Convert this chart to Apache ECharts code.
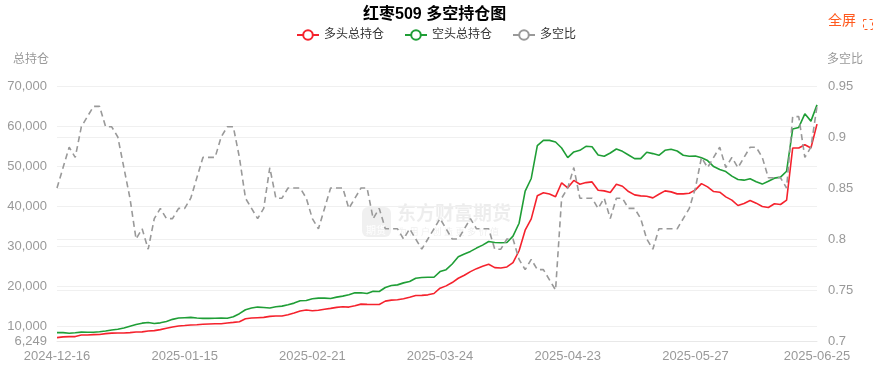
<!DOCTYPE html>
<html><head><meta charset="utf-8">
<script src="https://cdn.jsdelivr.net/npm/echarts@6/dist/echarts.min.js"></script>
<style>html,body{margin:0;padding:0;background:#fff}#c{width:877px;height:368px}</style>
</head><body><div id="c"></div>
<script>
const dates = [
'2024-12-16','2024-12-17','2024-12-18','2024-12-19','2024-12-20','2024-12-23','2024-12-24','2024-12-25','2024-12-26','2024-12-27','2024-12-30','2024-12-31',
'2025-01-02','2025-01-03','2025-01-06','2025-01-07','2025-01-08','2025-01-09','2025-01-10','2025-01-13','2025-01-14','2025-01-15','2025-01-16','2025-01-17','2025-01-20','2025-01-21','2025-01-22','2025-01-23','2025-01-24','2025-01-27',
'2025-02-05','2025-02-06','2025-02-07','2025-02-10','2025-02-11','2025-02-12','2025-02-13','2025-02-14','2025-02-17','2025-02-18','2025-02-19','2025-02-20','2025-02-21','2025-02-24','2025-02-25','2025-02-26','2025-02-27','2025-02-28',
'2025-03-03','2025-03-04','2025-03-05','2025-03-06','2025-03-07','2025-03-10','2025-03-11','2025-03-12','2025-03-13','2025-03-14','2025-03-17','2025-03-18','2025-03-19','2025-03-20','2025-03-21','2025-03-24','2025-03-25','2025-03-26','2025-03-27','2025-03-28','2025-03-31',
'2025-04-01','2025-04-02','2025-04-03','2025-04-07','2025-04-08','2025-04-09','2025-04-10','2025-04-11','2025-04-14','2025-04-15','2025-04-16','2025-04-17','2025-04-18','2025-04-21','2025-04-22','2025-04-23','2025-04-24','2025-04-25','2025-04-28','2025-04-29','2025-04-30',
'2025-05-06','2025-05-07','2025-05-08','2025-05-09','2025-05-12','2025-05-13','2025-05-14','2025-05-15','2025-05-16','2025-05-19','2025-05-20','2025-05-21','2025-05-22','2025-05-23','2025-05-26','2025-05-27','2025-05-28','2025-05-29','2025-05-30',
'2025-06-03','2025-06-04','2025-06-05','2025-06-06','2025-06-09','2025-06-10','2025-06-11','2025-06-12','2025-06-13','2025-06-16','2025-06-17','2025-06-18','2025-06-19','2025-06-20','2025-06-23','2025-06-24','2025-06-25'
];

const longTotal = [
7100,7270,7350,7350,7740,7760,7850,7890,8100,8220,8260,8260,8345,8510,8540,8760,8840,9090,9420,9750,
10000,10120,10250,10330,10420,10500,10580,10580,10750,10910,11080,11830,12000,12080,12160,12410,12500,12500,12830,13240,
13740,13990,13820,13940,14200,14400,14650,14810,14730,15060,15470,15410,15390,15390,16220,16470,16550,16800,17210,17630,
17660,17790,18120,19450,20030,20860,21940,22690,23600,24340,24920,25420,24590,24510,24760,25840,28810,33950,36770,42580,
43330,42990,42330,45800,44560,46400,45440,45850,46020,43950,43780,43360,45440,44940,43610,42780,42530,42450,42030,42950,
43780,43530,43030,43030,43200,44030,45600,44780,43620,43450,42290,41460,40130,40630,41380,40710,39880,39630,40550,40380,
41460,54500,54500,55330,54500,60470
];

const shortTotal = [
8345,8345,8180,8300,8470,8430,8430,8550,8760,9010,9170,9500,9960,10370,10710,10870,10610,10790,11120,11660,
12000,12080,12160,12000,11910,11910,11950,12000,11940,12330,13080,14060,14480,14730,14640,14480,14810,14970,15310,15720,
16300,16380,16800,16960,16960,16880,17210,17460,17790,18290,18330,18120,18700,18620,19620,20110,20280,20780,21110,21940,
22110,22190,22190,23600,24090,25500,27320,27990,28650,29480,30220,31130,30890,30800,30890,32460,35690,43730,46880,55080,
56410,56410,56000,54500,52100,53510,53920,54920,54830,52760,52430,53260,54260,53670,52760,51850,51850,53430,53100,52680,
53920,54170,53750,52680,52430,52510,52050,51350,49860,49120,48620,47460,46630,46460,46790,46050,45470,46210,46960,47210,
48700,59230,59640,63040,61220,65280
];

const ratio = [
0.85,0.87,0.89,0.88,0.91,0.92,0.93,0.93,0.91,0.91,0.90,0.87,0.84,0.80,0.81,0.79,0.82,0.83,0.82,0.82,
0.83,0.83,0.84,0.86,0.88,0.88,0.88,0.90,0.91,0.91,0.88,0.84,0.83,0.82,0.83,0.87,0.84,0.84,0.85,0.85,
0.85,0.84,0.82,0.81,0.83,0.85,0.85,0.85,0.83,0.84,0.85,0.85,0.82,0.83,0.81,0.81,0.81,0.80,0.81,0.80,
0.79,0.80,0.81,0.82,0.81,0.80,0.80,0.81,0.82,0.81,0.81,0.81,0.79,0.79,0.80,0.80,0.78,0.77,0.78,0.77,
0.77,0.76,0.75,0.84,0.85,0.87,0.84,0.84,0.84,0.83,0.84,0.82,0.84,0.84,0.83,0.83,0.82,0.80,0.79,0.81,
0.81,0.81,0.81,0.82,0.83,0.85,0.88,0.87,0.88,0.89,0.87,0.88,0.87,0.88,0.89,0.89,0.88,0.86,0.86,0.86,
0.85,0.92,0.92,0.88,0.89,0.93
];

const leftTicks = [6249, 10000, 20000, 30000, 40000, 50000, 60000, 70000];
const seriesNames = ['多头总持仓', '空头总持仓', '多空比'];

const FONT = '"Liberation Sans", Arial, "Noto Sans CJK SC", sans-serif';
const chart = echarts.init(document.getElementById('c'), null, {renderer: 'canvas'});

chart.setOption({
  animation: false,
  textStyle: {fontFamily: FONT},
  title: {
    text: '红枣509 多空持仓图',
    left: 358, top: 2,
    textStyle: {fontSize: 16, fontWeight: 'bold', color: '#000', fontFamily: FONT}
  },
  legend: {
    data: [
      {name: seriesNames[0]},
      {name: seriesNames[1]},
      {name: seriesNames[2], lineStyle: {type: 'solid'}}
    ],
    left: 291, top: 24,
    itemWidth: 22, itemHeight: 12, itemGap: 20,
    textStyle: {fontSize: 12, color: '#333', fontFamily: FONT}
  },
  grid: {left: 57, right: 60, top: 86, bottom: 27},
  xAxis: {
    type: 'category',
    data: dates,
    boundaryGap: false,
    axisLine: {lineStyle: {color: '#e8e8e8'}},
    axisTick: {show: false},
    axisLabel: {color: '#999', fontSize: 13, interval: 20, showMaxLabel: true, showMinLabel: true, margin: 9}
  },
  yAxis: [
    {
      type: 'value',
      position: 'left',
      min: 6249, max: 70000,
      name: '总持仓',
      nameLocation: 'end',
      nameGap: 20,
      nameTextStyle: {color: '#999', fontSize: 12, align: 'right', padding: [0, 8, 0, 0]},
      axisLine: {show: false},
      axisTick: {show: false, customValues: leftTicks},
      axisLabel: {
        color: '#999', fontSize: 13, margin: 10,
        customValues: leftTicks,
        showMinLabel: true, showMaxLabel: true, hideOverlap: false,
        formatter: v => Math.round(v).toLocaleString('en-US')
      },
      splitLine: {lineStyle: {color: '#f0f0f0'}}
    },
    {
      type: 'value',
      position: 'right',
      min: 0.7, max: 0.95, interval: 0.05,
      name: '多空比',
      nameLocation: 'end',
      nameGap: 20,
      nameTextStyle: {color: '#999', fontSize: 12, align: 'left', padding: [0, 0, 0, 10]},
      axisLine: {show: false},
      axisTick: {show: false},
      axisLabel: {color: '#999', fontSize: 13, margin: 11,
        formatter: v => String(Math.round(v * 100) / 100)},
      splitLine: {lineStyle: {color: '#f0f0f0'}}
    }
  ],
  graphic: [
    {type: 'rect', left: 362, top: 207, shape: {width: 29, height: 30, r: 6}, style: {fill: 'rgba(0,0,0,0.06)'}, z: 0, silent: true},
    {type: 'text', left: 366, top: 226, style: {text: '期货', fill: 'rgba(255,255,255,0.9)', fontSize: 10, fontFamily: FONT}, z: 0, silent: true},
    {type: 'text', left: 397, top: 205, style: {text: '东方财富期货', fill: 'rgba(0,0,0,0.07)', fontSize: 19, fontWeight: 'bold', fontFamily: FONT}, z: 0, silent: true},
    {type: 'text', left: 398, top: 228, style: {text: '为 用 户 创 造 更 多 价 值', fill: 'rgba(0,0,0,0.07)', fontSize: 9, fontFamily: FONT}, z: 0, silent: true},
    {type: 'text', left: 828, top: 14, style: {text: '全屏', fill: '#ff5a1f', fontSize: 14, fontFamily: FONT}, silent: true},
    {type: 'rect', left: 861, top: 17, shape: {width: 9, height: 10}, style: {fill: 'none', stroke: '#ff5a1f', lineWidth: 1, lineDash: [3, 3]}, silent: true}
  ],
  series: [
    {
      name: seriesNames[0], type: 'line', yAxisIndex: 0, data: longTotal,
      symbol: 'emptyCircle', symbolSize: 8, showSymbol: false,
      itemStyle: {color: '#f5222d'},
      lineStyle: {color: '#f5222d', width: 1.6}
    },
    {
      name: seriesNames[1], type: 'line', yAxisIndex: 0, data: shortTotal,
      symbol: 'emptyCircle', symbolSize: 8, showSymbol: false,
      itemStyle: {color: '#1f9e36'},
      lineStyle: {color: '#1f9e36', width: 1.6}
    },
    {
      name: seriesNames[2], type: 'line', yAxisIndex: 1, data: ratio,
      symbol: 'emptyCircle', symbolSize: 8, showSymbol: false,
      itemStyle: {color: '#999'},
      lineStyle: {color: '#999', width: 1.6, type: [6, 4]}
    }
  ]
});
</script>
</body></html>
